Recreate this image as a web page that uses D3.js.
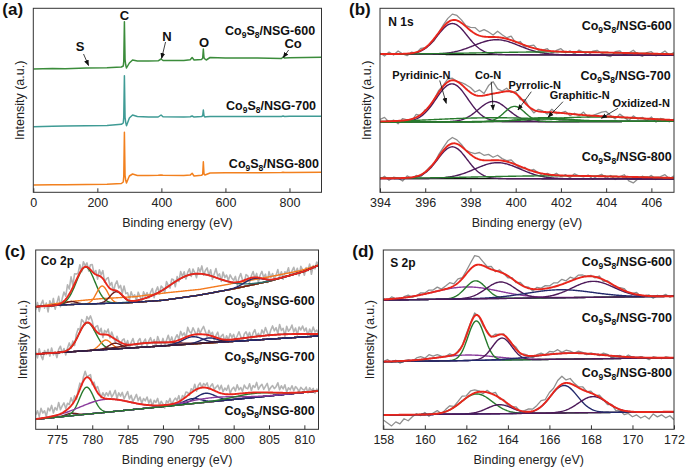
<!DOCTYPE html>
<html>
<head>
<meta charset="utf-8">
<script src="https://cdn.jsdelivr.net/npm/d3@7"></script>
<style>
  body { margin: 0; background: #fff; }
  text { font-family: "Liberation Sans", Arial, sans-serif; }
</style>
</head>
<body>
<svg id="fig" width="685" height="469"></svg>
<script>

// ---------------- data ----------------
// intensities are in arbitrary units (a.u.), stacked with offsets as in the figure

// (a) survey spectra
const surveyEV = [0, 60, 100, 165, 230, 275, 281, 282.5, 284.5, 286.5, 288.5, 291,
	300, 310, 325, 360, 390, 399, 405, 470, 490, 496, 502,
	525, 529, 531, 533, 536, 540, 552, 600, 700, 775, 780, 785, 800, 900];
const survey600 = [123.3, 123.8, 123.6, 124.2, 124.6, 125.3, 126.3, 131, 170.6, 133, 127.5, 124.3,
	129.3, 132.3, 131.3, 131.3, 131.5, 133.3, 131.8, 131.8, 132.5, 134.8, 132.3,
	132.8, 134, 143.3, 134.5, 133.3, 132.3, 134.8, 134.3, 134.2, 133.8, 135.3, 134.3, 134.5, 135];
const survey700 = [65.6, 66, 66.3, 66.5, 66.8, 68, 69.3, 75, 116.6, 75, 70, 66.6,
	74.3, 77.3, 75.8, 75.3, 75.3, 77.3, 75.6, 75.3, 75.5, 76.3, 75.2,
	75.8, 76.5, 82.3, 76.5, 75.3, 75.5, 75.8, 75.8, 75.8, 75.8, 76.3, 75.9, 76, 76];
const survey800 = [7.3, 7.5, 7.6, 7.8, 8.0, 8.8, 10.3, 16, 60, 17, 12, 9.3,
	16.3, 18.3, 16.8, 16.8, 17, 17.3, 17, 16.8, 17.2, 19, 16.3,
	17, 18, 30.6, 18.5, 17.3, 17.8, 19.3, 19.5, 19.6, 19.8, 20, 19.8, 19.9, 20];
const surveyTicks = [0, 200, 400, 600, 800];
const surveyNotes = [
	{ text: "C", x: 285, v: 177.3 },
	{ text: "S", x: 146, v: 145.6, from: [156.9, 138.3], to: [172.5, 126.8] },
	{ text: "N", x: 417, v: 155.6, from: [413, 150.3], to: [400.6, 133.8] },
	{ text: "O", x: 533, v: 150.3 },
	{ text: "Co", x: 811.5, v: 148.8, from: [797.5, 142.3], to: [780.3, 134.8] }
];

// (b) N 1s : linear background [eV, a.u.], fitted peaks {centre, height, sigma}, raw residuals (0.2 eV steps)
const n1sTicks = [394, 396, 398, 400, 402, 404, 406];
const n600Base = [[394, 138], [407, 137]];
const n700Base = [[394, 70.3], [407, 71]];
const n800Base = [[394, 13.8], [407, 13.3]];
const n600Peaks = [
	{ c: 397.2, h: 31, s: 0.66, kind: "pur" },
	{ c: 399.15, h: 15, s: 1.0, kind: "pur" },
	{ c: 402, h: 3, s: 3.5, kind: "grn" }
];
const n700Peaks = [
	{ c: 397.18, h: 38, s: 0.7, kind: "pur" },   // pyridinic
	{ c: 399.0, h: 20.3, s: 0.65, kind: "pur" },  // Co-N
	{ c: 399.95, h: 15.3, s: 0.45, kind: "grn" }, // pyrrolic
	{ c: 399, h: 4, s: 2.5, kind: "grn" },
	{ c: 401.3, h: 4, s: 1.0, kind: "grn" },      // graphitic
	{ c: 403.5, h: 4.5, s: 2.2, kind: "grn" }     // oxidized
];
const n800Peaks = [
	{ c: 397.2, h: 31.8, s: 0.65, kind: "pur" },
	{ c: 399.2, h: 16, s: 1.0, kind: "pur" },
	{ c: 402, h: 3, s: 3.5, kind: "grn" }
];
const n600Resid = [1, -2, 2, -1, 3, 0, -2, 1, -1, 2, 0, -1, -2, 0, 2, 4, 6, 5, 3, 1,
	3, 6, 4, 7, 5, 2, 6, 3, 1, 4, -1, 2, -2, 1, 3, -1, 0, 2, -2, 1,
	3, -1, 1, -2, 2, 0, -3, 1, 2, -1, -3, -4, 1, 2, -2, 0, 3, -1, -3, 1,
	2, -2, 0, 3, -1, 2];
const n700Resid = [2, 4, -1, 1, -3, 2, 0, -2, 3, -1, 1, -2, 0, 2, 1, 3, 2, 0, 2, 4,
	5, 3, 6, 2, 9, 12, 4, 1, 3, -1, 2, -2, 3, 0, -3, 2, 1, -2, 3, -1,
	0, 2, -2, 1, -1, 3, -2, 0, 2, 4, 5, 1, -2, 3, 0, -3, 2, -1, 1, -2,
	2, -3, 1, 0, -2, 1];
const n800Resid = [-1, 2, -2, 1, 0, -3, 2, -1, 1, -2, 0, 1, -1, 2, 3, 5, 6, 4, 2, 0,
	2, 4, 7, 5, 6, 3, 5, 2, 1, 3, 0, -2, 1, -1, 2, 0, -2, 1, -1, 2,
	-1, 1, -2, 2, 0, -1, 1, -3, 0, 2, -2, 1, -3, 0, 2, -4, -6, -2, 1, -1,
	2, -2, 1, 3, -1, 2];
const n1sNotes = [
	{ text: "Pyridinic-N", x: 395.83, v: 117.3, from: [396.64, 111.8], to: [396.93, 89] },
	{ text: "Co-N", x: 398.78, v: 117.3, from: [398.92, 110.6], to: [399.0, 82.3] },
	{ text: "Pyrrolic-N", x: 400.84, v: 107.3, from: [400.69, 100.6], to: [400.1, 82.3] },
	{ text: "Graphitic-N", x: 402.83, v: 97.3, from: [402.09, 90.6], to: [401.43, 75] },
	{ text: "Oxidized-N", x: 405.55, v: 89.6, from: [404.52, 84], to: [403.79, 74] }
];

// (c) Co 2p : raw residuals in 0.25 eV steps
const co2pTicks = [775, 780, 785, 790, 795, 800, 805, 810];
const co600Base = [[772, 122.6], [776, 124.5], [780, 125.5], [785, 126.5], [790, 129], [795, 134],
	[800, 140.5], [805, 148], [810, 158], [812, 164]];
const co600Bg = [[772, 122.6], [776.5, 127.5], [781, 130.5], [786, 132.6], [790.6, 136.6],
	[795.3, 140], [800, 146], [804.7, 152], [809.4, 158.6], [812, 164.3]];
const co700Base = [[772, 75.3], [812, 93.3]];
const co800Base = [[772, 10], [812, 38.3]];
const co600Peaks = [
	{ c: 777, h: 3, s: 0.8, kind: "mar" },
	{ c: 779.05, h: 37, s: 1.3, kind: "grn" },
	{ c: 781.4, h: 17.5, s: 0.8, kind: "org" },
	{ c: 783.4, h: 11.4, s: 0.9, kind: "mar" },
	{ c: 794.3, h: 22, s: 3.5, kind: "teal" },
	{ c: 802.8, h: 6, s: 1.3, kind: "navy" }
];
const co700Peaks = [
	{ c: 779.3, h: 28, s: 1.2, kind: "grn" },
	{ c: 781.9, h: 9.5, s: 0.8, kind: "org" },
	{ c: 783.2, h: 5.7, s: 0.9, kind: "mar" },
	{ c: 788, h: 4, s: 3.5, kind: "mar" },
	{ c: 794.2, h: 7.3, s: 1.4, kind: "navy" },
	{ c: 796.5, h: 5, s: 1.2, kind: "navy" },
	{ c: 806, h: 4, s: 5, kind: "dark" }
];
const co800Peaks = [
	{ c: 777, h: 2.5, s: 0.8, kind: "mar" },
	{ c: 779.2, h: 27, s: 1.0, kind: "grn" },
	{ c: 781.8, h: 13, s: 3.5, kind: "pur2" },
	{ c: 794.2, h: 5, s: 1.2, kind: "navy" },
	{ c: 796, h: 9, s: 1.4, kind: "navy" },
	{ c: 797, h: 4, s: 3.5, kind: "pur2" },
	{ c: 803, h: 4, s: 3, kind: "grn" }
];
const co600Resid = [-3, 4, -5, 2, 6, -2, 3, -6, 5, -1, 7, -4, 2, 8, -3, 4,
	9, 3, 12, 5, 14, 2, 10, 6, 3, 8, -2, 6, 1, 4, -3, 5,
	7, 0, 4, -4, 6, 2, 8, -1, 5, 9, 3, 7, -2, 6, 10, 4,
	8, 2, 11, 5, 7, 1, 9, 4, 6, 0, 8, 3, -2, 7, 2, 5,
	-1, 4, 7, -3, 3, 6, -2, 5, 2, -4, 6, 1, -3, 5, 3, -5,
	4, -2, 7, 1, 5, -3, 3, 6, -2, 5, 1, -4, 6, 2, 8, -1,
	4, 7, 0, 6, -3, 3, 9, 2, 5, -2, 8, 3, 6, 1, 7, 4,
	2, 6, -3, 4, 8, 1, -2, 5, 3, -4, 2, 6, -1, 4, -5, 3,
	7, 1, 5, -3, 8, 2, 6, 0, 4, 9, 1, 6, -2, 5, 3, 8,
	-1, 4, 7, 0, 5, -3, 6, 2, -4, 3, -1, 5, -6, 2, -2, 4, 1];
const co700Resid = [2, -4, 5, -2, -6, 3, -1, 4, -3, 5, -2, 1, -5, 3, 6, -1,
	3, -4, 2, 6, -1, 4, -3, 5, 7, 2, 9, 4, -1, 6, 3, 8,
	5, -2, 4, 7, 1, 6, -3, 4, 2, 6, -2, 5, 1, -3, 4, 0,
	-2, 3, 5, -1, 4, -3, 2, 6, 0, -4, 3, 5, -2, 1, 4, -3,
	2, 5, -1, 3, -4, 6, 1, -2, 4, -3, 2, 7, 0, 5, -2, 3,
	6, 1, 8, 3, 5, -1, 9, 4, 2, 7, 3, -2, 6, 1, 5, 8,
	3, -2, 5, 1, 4, -3, 2, 6, -1, 3, 5, -2, 4, 0, 6, 2,
	5, -1, 3, 7, 2, -3, 4, 6, 1, 5, -2, 4, 7, 0, 3, -1,
	6, 2, 8, 3, -1, 5, 9, 4, 7, 1, 10, 4, 6, -2, 8, 3,
	5, 9, 2, 6, -1, 7, 4, 8, 3, 6, -2, 5, 1, 7, 2, 4, 0];
const co800Resid = [4, 8, 2, 10, 5, 7, 1, 9, 6, 11, 3, 8, 5, 12, 4, 7,
	9, 2, 6, 3, 8, 1, 5, -2, 3, 6, -1, 4, 7, 0, 2, 5,
	-2, 4, 1, 6, 3, -1, 5, 2, 6, 3, 8, 2, 5, 9, 1, 7,
	4, 8, 2, 6, 10, 3, 7, 1, 5, 9, 3, 7, 1, 6, 4, 8,
	2, 6, -1, 5, 3, 7, 0, 4, 1, -3, 4, 2, 6, -1, 3, 5,
	2, 6, -2, 4, 1, 5, 3, -1, 4, 1, 6, -2, 3, 5, 0, 4,
	2, 5, -1, 3, 6, 1, 4, 7, 3, 8, 2, 6, 4, 9, 1, 5,
	7, 3, 9, 4, 6, 2, 8, 5, 4, 9, 2, 7, 5, 10, 3, 6,
	8, 3, 6, 9, 2, 5, 7, 4, 6, 10, 3, 7, 4, 8, 1, 5,
	3, 7, 2, 6, 4, 1, 5, 3, 2, 5, -1, 4, 1, 3, -2, 2, 1];

// (d) S 2p : raw residuals in 0.2 eV steps
const s2pTicks = [158, 160, 162, 164, 166, 168, 170, 172];
const s600Base = [[158, 129.3], [172, 133]];
const s700Base = [[158, 67.6], [172, 71.6]];
const s800Base = [[158, 14.3], [172, 17.6]];
const s600Peaks = [
	{ c: 162.0, h: 12, s: 1.6, kind: "pur2" },
	{ c: 162.45, h: 18, s: 0.5, kind: "grn" },
	{ c: 163.65, h: 16.5, s: 0.7, kind: "pur" },
	{ c: 166.5, h: 8, s: 1.6, kind: "navy" },
	{ c: 168.1, h: 16, s: 1.0, kind: "pur" }
];
const s700Peaks = [
	{ c: 162.0, h: 5.5, s: 1.4, kind: "pur2" },
	{ c: 162.48, h: 39.5, s: 0.4, kind: "grn" },
	{ c: 163.72, h: 22, s: 0.47, kind: "pur" },
	{ c: 167.0, h: 6, s: 1.6, kind: "navy" }
];
const s800Peaks = [
	{ c: 162.5, h: 20, s: 0.75, kind: "grn" },
	{ c: 163.6, h: 9, s: 0.6, kind: "pur" },
	{ c: 166.7, h: 27.5, s: 0.65, kind: "navy" },
	{ c: 168.1, h: 16, s: 0.7, kind: "pur" }
];
const s600Resid = [1, -1, 2, 0, -2, 1, 2, -1, 0, 2, 1, 3, 2, 4, 1, 3, 5, 2, 4, 1,
	3, 6, 10, 8, 4, 1, 3, -1, 2, 0, -2, 1, -1, 2, 0, 1, -2, 2, 1, 3,
	2, 4, 3, 5, 2, 4, 1, 3, 2, 0, 1, -1, 2, -2, 1, 0, -2, 1, 2, -1,
	0, 2, -1, 0, 1, -2, 1, 0, 2, -1, 1];
const s700Resid = [0, 2, -1, 1, -2, 0, 1, -1, 2, 3, 1, 4, 2, 3, 1, 0, 2, -1, 1, 0,
	2, 1, 3, 0, -2, 1, -1, 2, 0, 1, -1, 0, 2, -1, 1, 0, -2, 1, 2, 0,
	3, 2, 4, 1, 3, 2, 0, 2, 1, -1, 1, 0, -1, 2, 1, -2, 0, 1, -1, 2,
	0, -1, 1, 0, -2, 1, 0, -1, 1, 0, -1];
const s800Resid = [-5, -8, -11, -7, -9, -4, -6, -2, 1, -1, 2, -2, 1, 3, -1, 2, 4, 1, 3, 5,
	2, 4, 3, 1, -2, 2, 0, 3, -1, 1, -2, 0, 2, -1, 1, 3, 2, 4, 6, 3,
	5, 4, 7, 8, 3, 5, 2, 1, 3, 0, 2, -1, 2, 0, -2, 1, -3, -1, -4, -2,
	-5, -3, -6, -4, -7, -2, -5, -3, -6, -4, -8];

// ---------------- drawing ----------------
const svg = d3.select("#fig");
const defs = svg.append("defs");
defs.append("marker")
	.attr("id", "arr")
	.attr("viewBox", "0 0 10 10")
	.attr("refX", 9).attr("refY", 5)
	.attr("markerUnits", "userSpaceOnUse")
	.attr("markerWidth", 6).attr("markerHeight", 6)
	.attr("orient", "auto")
	.append("path").attr("d", "M0,1 L10,5 L0,9 z").attr("fill", "#111");

const colors = {
	pur: "#4e1a5a", pur2: "#8a3b9c", grn: "#277a2c", org: "#f47a1e",
	mar: "#6b1c1c", teal: "#2b6e6b", navy: "#22286b", dark: "#3a1d3a"
};
const red = "#e8261c";

function gauss(x, p) {
	return p.h * Math.exp(-((x - p.c) ** 2) / (2 * p.s * p.s));
}
function lineAt(pts, x) {
	const i = d3.bisector(d => d[0]).right(pts, x);
	if (i <= 0) return pts[0][1];
	if (i >= pts.length) return pts[pts.length - 1][1];
	const [x0, y0] = pts[i - 1], [x1, y1] = pts[i];
	return y0 + (y1 - y0) * (x - x0) / (x1 - x0);
}

function makePanel(id, box, xDomain, ticks, letter) {
	const x = d3.scaleLinear().domain(xDomain).range([box.left, box.right]);
	const y = d3.scaleLinear().domain([0, box.bottom - box.top]).range([box.bottom, box.top]);

	defs.append("clipPath").attr("id", "clip-" + id)
		.append("rect")
		.attr("x", box.left).attr("y", box.top)
		.attr("width", box.right - box.left).attr("height", box.bottom - box.top);

	const g = svg.append("g").attr("id", "panel-" + id);
	const plot = g.append("g").attr("clip-path", "url(#clip-" + id + ")");

	const axis = d3.axisBottom(x)
		.tickValues(ticks)
		.tickFormat(d3.format("d"))
		.tickSizeInner(-4).tickSizeOuter(0)
		.tickPadding(6);
	const ax = g.append("g")
		.attr("transform", "translate(0," + box.bottom + ")")
		.call(axis);
	ax.select(".domain").remove();
	ax.selectAll(".tick line").attr("stroke", "#333");
	ax.selectAll(".tick text")
		.attr("font-size", 12.5).attr("fill", "#222")
		.attr("font-family", "Liberation Sans, Arial, sans-serif");

	g.append("rect")
		.attr("x", box.left).attr("y", box.top)
		.attr("width", box.right - box.left).attr("height", box.bottom - box.top)
		.attr("fill", "none").attr("stroke", "#333").attr("stroke-width", 1);

	g.append("text")
		.attr("x", (box.left + box.right) / 2).attr("y", box.bottom + 35)
		.attr("text-anchor", "middle").attr("font-size", 12.5).attr("fill", "#222")
		.text("Binding energy (eV)");

	g.append("text")
		.attr("transform", "translate(" + (box.left - 9) + "," + ((box.top + box.bottom) / 2) + ") rotate(-90)")
		.attr("text-anchor", "middle").attr("font-size", 12.5).attr("fill", "#222")
		.text("Intensity (a.u.)");

	g.append("text")
		.attr("x", box.left - 31).attr("y", box.top + 7)
		.attr("font-size", 17).attr("font-weight", "bold").attr("fill", "#111")
		.text("(" + letter + ")");

	return { x, y, g, plot, box };
}

function sampleLabel(p, xr, v, temp) {
	const t = p.g.append("text")
		.attr("x", p.x(xr)).attr("y", p.y(v) + 4.5)
		.attr("text-anchor", "end")
		.attr("font-size", 12.5).attr("font-weight", "bold").attr("fill", "#111");
	t.append("tspan").text("Co");
	t.append("tspan").attr("dy", 3).attr("font-size", 8.5).text("9");
	t.append("tspan").attr("dy", -3).text("S");
	t.append("tspan").attr("dy", 3).attr("font-size", 8.5).text("8");
	t.append("tspan").attr("dy", -3).text("/NSG-" + temp);
}

function titleLabel(p, xl, v, txt) {
	p.g.append("text")
		.attr("x", p.x(xl)).attr("y", p.y(v) + 4.5)
		.attr("font-size", 12).attr("font-weight", "bold").attr("fill", "#111")
		.text(txt);
}

function note(p, n, size) {
	p.g.append("text")
		.attr("x", p.x(n.x)).attr("y", p.y(n.v) + size * 0.36)
		.attr("text-anchor", "middle")
		.attr("font-size", size).attr("font-weight", "bold").attr("fill", "#111")
		.text(n.text);
	if (n.from) {
		p.g.append("line")
			.attr("x1", p.x(n.from[0])).attr("y1", p.y(n.from[1]))
			.attr("x2", p.x(n.to[0])).attr("y2", p.y(n.to[1]))
			.attr("stroke", "#111").attr("stroke-width", 0.8)
			.attr("marker-end", "url(#arr)");
	}
}

// fitted spectrum: raw (grey), background, components, envelope (red)
function drawFit(p, spec) {
	const [x0, x1] = p.x.domain();
	const xs = d3.range(x0, x1 + spec.step / 2, spec.step);
	const base = x => lineAt(spec.base, x);
	const env = x => base(x) + d3.sum(spec.peaks, pk => gauss(x, pk));
	const line = d3.line().x(d => p.x(d[0])).y(d => p.y(d[1]));

	const raw = spec.resid.map((r, i) => {
		const e = x0 + i * spec.rawStep;
		return [e, env(e) + r];
	});
	p.plot.append("path").attr("d", line(raw))
		.attr("fill", "none").attr("stroke", spec.rawColor).attr("stroke-width", spec.rawWidth)
		.attr("stroke-linejoin", "round");

	p.plot.append("path").attr("d", line(xs.map(e => [e, base(e)])))
		.attr("fill", "none").attr("stroke", spec.baseColor).attr("stroke-width", 1.2);

	if (spec.bg) {
		p.plot.append("path").attr("d", line(xs.map(e => [e, lineAt(spec.bg, e)])))
			.attr("fill", "none").attr("stroke", colors.org).attr("stroke-width", 1.4);
	}

	spec.peaks.forEach(pk => {
		p.plot.append("path")
			.attr("d", line(xs.map(e => [e, base(e) + gauss(e, pk)])))
			.attr("fill", "none").attr("stroke", colors[pk.kind]).attr("stroke-width", 1.4);
	});

	p.plot.append("path").attr("d", line(xs.map(e => [e, env(e)])))
		.attr("fill", "none").attr("stroke", red).attr("stroke-width", 1.9);
}

// ---- (a) survey
const pa = makePanel("a", { left: 33.3, right: 321.5, top: 8.3, bottom: 192.3 }, [0, 900], surveyTicks, "a");
const surveySeries = [
	{ vals: survey600, color: "#3b8c3b" },
	{ vals: survey700, color: "#3f9b95" },
	{ vals: survey800, color: "#f2801e" }
];
const surveyLine = d3.line().x(d => pa.x(d[0])).y(d => pa.y(d[1]));
surveySeries.forEach(s => {
	pa.plot.append("path")
		.attr("d", surveyLine(surveyEV.map((e, i) => [e, s.vals[i]])))
		.attr("fill", "none").attr("stroke", s.color).attr("stroke-width", 1.5)
		.attr("stroke-linejoin", "round");
});
surveyNotes.forEach(n => note(pa, n, 13));
sampleLabel(pa, 880, 162.3, 600);
sampleLabel(pa, 883, 87.3, 700);
sampleLabel(pa, 892, 29, 800);

// ---- (b) N 1s
const fineRaw = { rawColor: "#8f8f8f", rawWidth: 1.3 };
const pb = makePanel("b", { left: 380, right: 674, top: 8.3, bottom: 192.3 }, [394, 407], n1sTicks, "b");
[
	{ base: n600Base, peaks: n600Peaks, resid: n600Resid },
	{ base: n700Base, peaks: n700Peaks, resid: n700Resid },
	{ base: n800Base, peaks: n800Peaks, resid: n800Resid }
].forEach(s => drawFit(pb, Object.assign({ step: 0.04, rawStep: 0.2, baseColor: "#111" }, fineRaw, s)));
titleLabel(pb, 394.37, 170.6, "N 1s");
sampleLabel(pb, 406.9, 167.3, 600);
sampleLabel(pb, 406.85, 117.3, 700);
sampleLabel(pb, 406.9, 35.6, 800);
n1sNotes.forEach(n => note(pb, n, 11));

// ---- (c) Co 2p
const denseRaw = { rawColor: "#b4b4b4", rawWidth: 1.6 };
const pc = makePanel("c", { left: 35.7, right: 318.5, top: 250, bottom: 429.3 }, [772, 812], co2pTicks, "c");
[
	{ base: co600Base, bg: co600Bg, peaks: co600Peaks, resid: co600Resid, baseColor: colors.navy },
	{ base: co700Base, peaks: co700Peaks, resid: co700Resid, baseColor: "#6b2f8b" },
	{ base: co800Base, peaks: co800Peaks, resid: co800Resid, baseColor: "#3b1010" }
].forEach(s => drawFit(pc, Object.assign({ step: 0.1, rawStep: 0.25 }, denseRaw, s)));
titleLabel(pc, 772.7, 169.3, "Co 2p");
sampleLabel(pc, 811.45, 129.3, 600);
sampleLabel(pc, 811.45, 73.3, 700);
sampleLabel(pc, 811.45, 19.3, 800);

// ---- (d) S 2p
const pd = makePanel("d", { left: 383.3, right: 674, top: 250, bottom: 429.3 }, [158, 172], s2pTicks, "d");
[
	{ base: s600Base, peaks: s600Peaks, resid: s600Resid, baseColor: colors.navy },
	{ base: s700Base, peaks: s700Peaks, resid: s700Resid, baseColor: colors.navy },
	{ base: s800Base, peaks: s800Peaks, resid: s800Resid, baseColor: "#7a3a8a" }
].forEach(s => drawFit(pd, Object.assign({ step: 0.04, rawStep: 0.2 }, fineRaw, s)));
titleLabel(pd, 158.33, 166.6, "S 2p");
sampleLabel(pd, 171.9, 167.6, 600);
sampleLabel(pd, 171.9, 112, 700);
sampleLabel(pd, 171.9, 56.6, 800);

</script>
</body>
</html>
